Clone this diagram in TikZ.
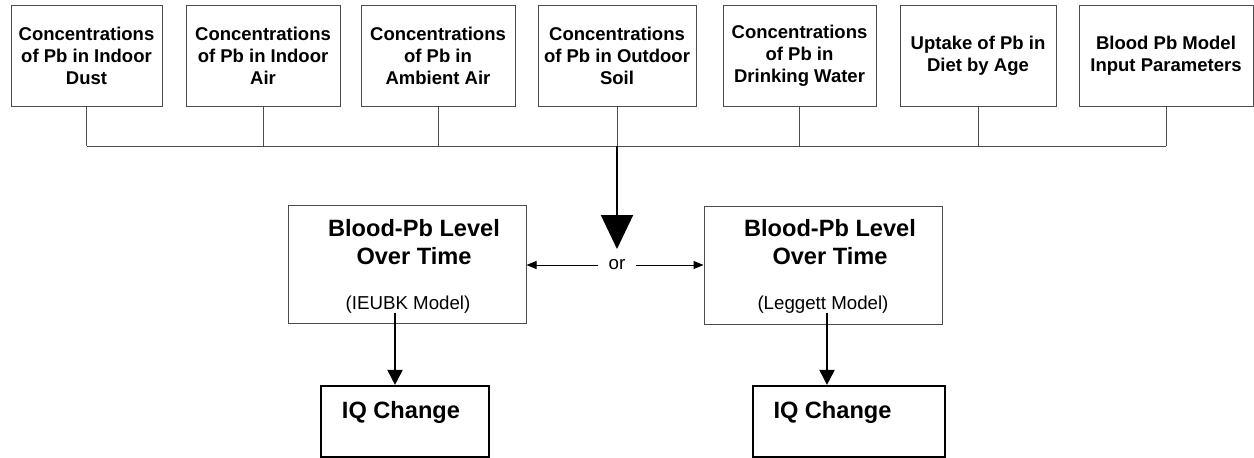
\documentclass[tikz,border=0pt]{standalone}
\usepackage{fontspec}
\setmainfont{Liberation Sans}
\usetikzlibrary{arrows.meta}
\begin{document}
\begin{tikzpicture}[x=1pt,y=-1pt,
  src/.style={draw=black!70, line width=1pt, minimum height=101pt, inner sep=0pt,
    align=center, font=\fontsize{18.5}{22}\selectfont\bfseries},
  bus/.style={draw=black!70, line width=1pt},
  model/.style={draw=black!70, line width=1pt, minimum width=238pt, minimum height=118pt, inner sep=0pt},
  title/.style={align=center, inner sep=0pt, font=\fontsize{23.6}{28.5}\selectfont\bfseries},
  note/.style={inner sep=0pt, font=\fontsize{18.7}{22}\selectfont},
  result/.style={draw=black, line width=2.2pt, minimum height=71pt, inner sep=0pt},
  resultlabel/.style={inner sep=0pt, font=\fontsize{23.6}{28}\selectfont\bfseries},
  flow/.style={draw=black, line width=2pt, -{Triangle[length=15pt,width=15pt]}},
  mainflow/.style={draw=black, line width=2pt, -{Triangle[length=34pt,width=32pt]}},
  choice/.style={draw=black, line width=1pt, -{Triangle[length=10pt,width=8pt]}}]
\useasboundingbox (0,0) rectangle (1254,458);

% input boxes
\node[src, minimum width=151pt] (b1) at (86.5,55.5) {Concentrations\\of Pb in Indoor\\Dust};
\node[src, minimum width=154pt] (b2) at (263,55.5) {Concentrations\\of Pb in Indoor\\Air};
\node[src, minimum width=154pt] (b3) at (438,55.5) {Concentrations\\of Pb in\\Ambient Air};
\node[src, minimum width=158pt] (b4) at (617,55.5) {Concentrations\\of Pb in Outdoor\\Soil};
\node[src, minimum width=153pt] (b5) at (799.5,55.5) {Concentrations\\of Pb in\\Drinking Water};
\node[src, minimum width=156pt] (b6) at (978,55.5) {Uptake of Pb in\\Diet by Age};
\node[src, minimum width=174pt] (b7) at (1166,55.5) {Blood Pb Model\\Input Parameters};

% collecting bus
\coordinate (bus) at (617,146);
\foreach \b in {b1,b2,b3,b4,b5,b6,b7}
  \draw[bus] (\b.south) -- (\b.south |- bus);
\draw[bus] (b1.south |- bus) -- (b7.south |- bus);

% model boxes
\node[model] (mL) at (407,264.5) {};
\node[model] (mR) at (823,265) {};
\node[title] (tL) at (414,242) {Blood-Pb Level\\Over Time};
\node[title] (tR) at (830,242) {Blood-Pb Level\\Over Time};
\node[note] (nL) at (408,305) {(IEUBK Model)};
\node[note] (nR) at (823,305) {(Leggett Model)};

% choice between the two models
\coordinate (mtip) at (617,249);
\draw[mainflow] (bus) -- (mtip);
\node[note, inner xsep=10pt] (or) at (617,265) {or};
\draw[choice] (or.west) -- (or.west -| mL.east);
\draw[choice] (or.east) -- (or.east -| mR.west);

% outcome boxes
\node[result, minimum width=168pt] (iqL) at (405,421.5) {};
\node[result, minimum width=192pt] (iqR) at (849,421.5) {};
\node[resultlabel] (iqLt) at (401,412) {IQ Change};
\node[resultlabel] (iqRt) at (832.5,412) {IQ Change};

\coordinate (dL) at (395,313);
\coordinate (dR) at (827,313);
\draw[flow] (dL) -- (dL |- iqL.north);
\draw[flow] (dR) -- (dR |- iqR.north);
\end{tikzpicture}
\end{document}
